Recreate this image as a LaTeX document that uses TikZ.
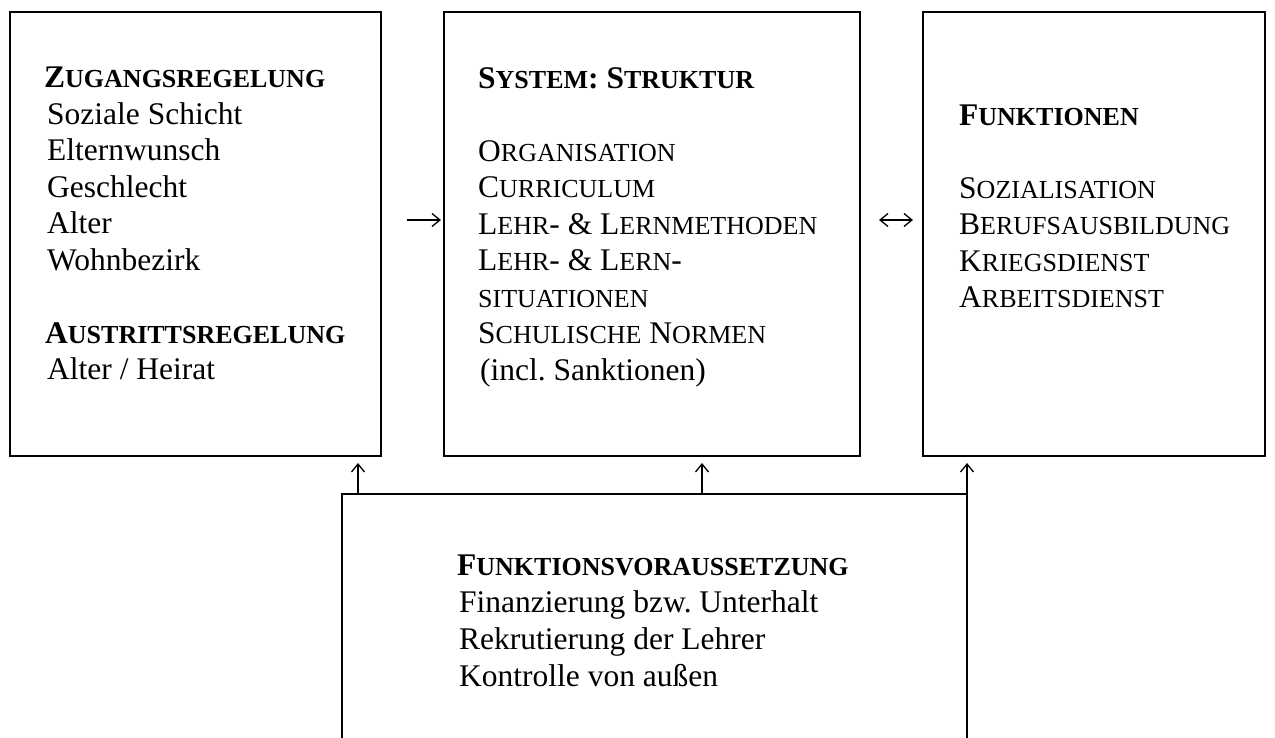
\documentclass[tikz,border=0pt]{standalone}
\usepackage{fontspec}
\setmainfont{Liberation Serif}
\usetikzlibrary{arrows.meta}
\newcommand\SC[1]{{\fontsize{26}{36.5}\selectfont #1}}
\frenchspacing
\begin{document}
\begin{tikzpicture}[x=1pt,y=-1pt,
  box/.style={draw, line width=1.7pt, rectangle, inner sep=0pt, outer sep=0pt, anchor=north west},
  txt/.style={anchor=base west, inner sep=0pt, font=\fontsize{31.5}{36.5}\selectfont},
  arr/.style={line width=1.3pt, -{Straight Barb[length=8pt,width=13pt]}},
  arrb/.style={line width=1.3pt, {Straight Barb[length=8pt,width=13pt]}-{Straight Barb[length=8pt,width=13pt]}}]
\useasboundingbox (0,0) rectangle (1275,737);
\clip (0,0) rectangle (1275,737);
% boxes
\node[box, minimum width=371pt, minimum height=444pt] (L) at (10,12) {};
\node[box, minimum width=416pt, minimum height=444pt] (M) at (444,12) {};
\node[box, minimum width=342pt, minimum height=444pt] (R) at (923,12) {};
\node[box, minimum width=625pt, minimum height=300pt] (B) at (342,494) {};
% left texts
\node[txt] (l0) at (44,87) {\textbf{Z\SC{UGANGSREGELUNG}}};
\node[txt] (l1) at (47,124) {Soziale Schicht};
\node[txt] (l2) at (47,160.5) {Elternwunsch};
\node[txt] (l3) at (47,197) {Geschlecht};
\node[txt] (l4) at (47,233.5) {Alter};
\node[txt] (l5) at (47,270) {Wohnbezirk};
\node[txt] (l6) at (45,343) {\textbf{A\SC{USTRITTSREGELUNG}}};
\node[txt] (l7) at (47,379.5) {Alter / Heirat};
% middle texts
\node[txt] (m0) at (478,88) {\textbf{S\SC{YSTEM}: S\SC{TRUKTUR}}};
\node[txt] (m1) at (478,161) {O\SC{RGANISATION}};
\node[txt] (m2) at (478,197.5) {C\SC{URRICULUM}};
\node[txt] (m3) at (478,234) {L\SC{EHR}- \& L\SC{ERNMETHODEN}};
\node[txt] (m4) at (478,270.5) {L\SC{EHR}- \& L\SC{ERN}-};
\node[txt] (m5) at (478,307) {\SC{SITUATIONEN}};
\node[txt] (m6) at (478,343.5) {S\SC{CHULISCHE} N\SC{ORMEN}};
\node[txt] (m7) at (480,380) {(incl. Sanktionen)};
% right texts
\node[txt] (r0) at (959,125) {\textbf{F\SC{UNKTIONEN}}};
\node[txt] (r1) at (959,198) {S\SC{OZIALISATION}};
\node[txt] (r2) at (959,234) {B\SC{ERUFSAUSBILDUNG}};
\node[txt] (r3) at (959,271) {K\SC{RIEGSDIENST}};
\node[txt] (r4) at (959,307) {A\SC{RBEITSDIENST}};
% bottom texts
\node[txt] (b0) at (457,575) {\textbf{F\SC{UNKTIONSVORAUSSETZUNG}}};
\node[txt] (b1) at (459,612) {Finanzierung bzw. Unterhalt};
\node[txt] (b2) at (459,649) {Rekrutierung der Lehrer};
\node[txt] (b3) at (459,686) {Kontrolle von außen};
% connectors
\coordinate (a1) at (407,220);
\coordinate (a2) at (879,220);
\draw[arr] (a1) -- ([xshift=-3pt]M.west |- a1);
\draw[arrb] (a2) -- ([xshift=-10pt]R.west |- a2);
\draw[arr, shorten >=7pt] ([xshift=16pt]B.north west) -- ([xshift=16pt]B.north west |- L.south);
\draw[arr, shorten >=7pt] ([xshift=360pt]B.north west) -- ([xshift=360pt]B.north west |- M.south);
\draw[arr, shorten >=7pt] (B.north east) -- (B.north east |- R.south);
\end{tikzpicture}
\end{document}
